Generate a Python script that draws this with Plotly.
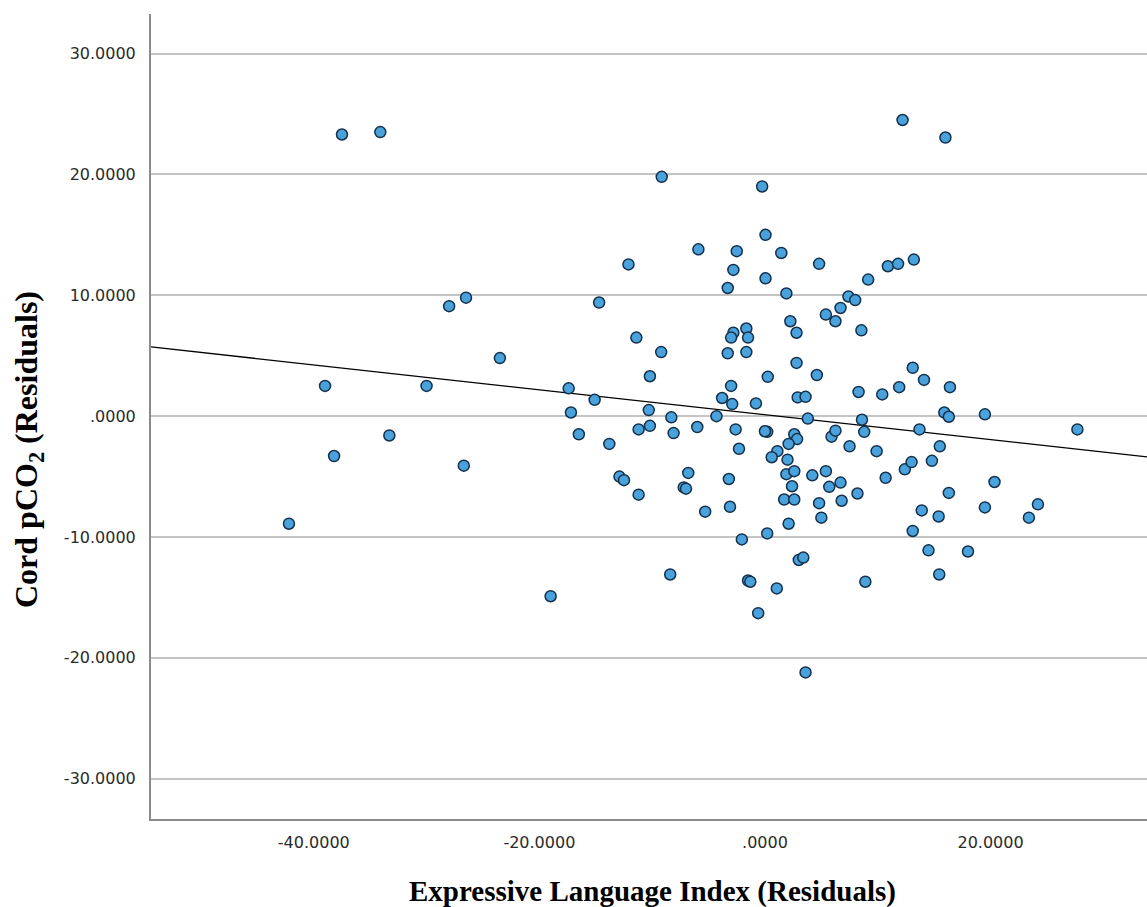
import plotly.graph_objects as go
import numpy as np

# Residual values
x_vals = [
    -37.5, -34.1, -28.0, -26.5, -23.5, -14.7, -39.0, -30.0, -17.4, -15.1, -17.2, -16.5, -33.3, -38.2, -26.7, -42.2, -19.0,
    -13.8, -10.2, -9.2, -10.3, -11.2, -10.2, -8.3, -8.1, -6.0, -4.3, -3.8, -3.0, -2.9, -3.3, -1.65, -0.8, -2.6, -2.3,
    -12.9, -12.5, -11.2, -6.8, -7.2, -7.0, -3.2,
    0.2, 0.0, 2.9, 3.6, 3.8, 2.6, 2.85, 2.1, 1.1, 0.6, 2.0, 1.9, 2.6, 2.4, 1.7, 2.6, 2.1, 4.2, 5.4, 5.7, 6.7, 4.8, 5.0,
    6.8, 8.2, 7.5, 5.9, 6.25, 8.6, 8.8, 9.9, 10.7, 12.4, 13.0, 13.1, 8.3, 10.4, 11.9, -5.3, -3.1, -2.05, 0.2, 3.0, 3.4,
    -8.4, -1.5, -1.3, 1.05, -0.6, 8.9, 3.6,
    12.2, -9.15, -0.25, 0.05, -5.9, -2.5, 1.45, -12.1, 4.8, 10.9, 11.8, 13.2, -2.8, 0.05, 9.15, -3.3, 1.9, 7.4, 8.0,
    6.7, 5.4, 6.25, 8.55, 2.25, 2.8, -11.4, -2.8, -1.65, -3.0, -1.5, 0.25, 2.8, 4.6, 13.1,
    16.0, 14.1, 16.4, 15.9, 16.3, 19.5, 27.7, 13.7, 15.5,
    14.8, 20.35, 16.3, 13.9, 15.4, 19.5, 24.2, 23.4, 14.5, 18.0, 15.45,
]
y_vals = [
    23.3, 23.5, 9.1, 9.8, 4.8, 9.4, 2.5, 2.5, 2.3, 1.35, 0.3, -1.5, -1.6, -3.3, -4.1, -8.9, -14.9,
    -2.3, 3.3, 5.3, 0.5, -1.1, -0.8, -0.1, -1.4, -0.9, 0.0, 1.5, 2.5, 1.0, 5.2, 5.3, 1.05, -1.1, -2.7,
    -5.0, -5.3, -6.5, -4.7, -5.9, -6.0, -5.2,
    -1.3, -1.25, 1.55, 1.6, -0.2, -1.5, -1.9, -2.3, -2.9, -3.4, -3.6, -4.8, -4.55, -5.8, -6.9, -6.9, -8.9, -4.9, -4.55,
    -5.85, -5.5, -7.2, -8.4, -7.0, -6.4, -2.5, -1.7, -1.2, -0.3, -1.3, -2.9, -5.1, -4.4, -3.8, -9.5, 2.0, 1.8, 2.4,
    -7.9, -7.5, -10.2, -9.7, -11.9, -11.7, -13.1, -13.6, -13.7, -14.25, -16.3, -13.7, -21.2,
    24.5, 19.8, 19.0, 15.0, 13.8, 13.65, 13.5, 12.55, 12.6, 12.4, 12.6, 12.95, 12.1, 11.4, 11.3, 10.6, 10.15, 9.9, 9.6,
    8.95, 8.4, 7.85, 7.1, 7.85, 6.9, 6.5, 6.9, 7.25, 6.5, 6.5, 3.25, 4.4, 3.4, 4.0,
    23.05, 3.0, 2.4, 0.3, -0.05, 0.15, -1.1, -1.1, -2.5,
    -3.7, -5.45, -6.35, -7.8, -8.3, -7.55, -7.3, -8.4, -11.1, -11.2, -13.1,
]
x_ticks = [-40, -20, 0, 20]
x_tick_labels = ["-40.0000", "-20.0000", ".0000", "20.0000"]
y_ticks = [-30, -20, -10, 0, 10, 20, 30]
y_tick_labels = ["-30.0000", "-20.0000", "-10.0000", ".0000", "10.0000", "20.0000", "30.0000"]

fit_intercept = 0.12
fit_slope = -0.103

x_range = [-54.43, 33.87]
y_range = [-33.33, 33.27]

fit_x = np.array(x_range)
fit_y = fit_intercept + fit_slope * fit_x

fig = go.Figure()
fig.add_trace(go.Scatter(
    x=fit_x, y=fit_y, mode="lines",
    line=dict(color="black", width=1.3),
    hoverinfo="skip", showlegend=False,
))
fig.add_trace(go.Scatter(
    x=x_vals, y=y_vals, mode="markers",
    marker=dict(size=11, color="#4aa2dc", line=dict(color="#14304a", width=1.5)),
    showlegend=False,
))

tick_font = dict(family="DejaVu Sans", size=16, color="#2a2a2a")

fig.update_layout(
    width=1147, height=907,
    margin=dict(l=151, r=0, t=14, b=88),
    paper_bgcolor="white", plot_bgcolor="white",
    xaxis=dict(
        range=x_range, tickmode="array", tickvals=x_ticks, ticktext=x_tick_labels,
        showgrid=False, zeroline=False, showline=True, linecolor="#8a8a8a", linewidth=2,
        ticks="", tickfont=tick_font, ticklabelstandoff=8,
    ),
    yaxis=dict(
        range=y_range, tickmode="array", tickvals=y_ticks, ticktext=y_tick_labels,
        showgrid=True, gridcolor="#c4c4c4", gridwidth=1.5, zeroline=False,
        showline=True, linecolor="#8a8a8a", linewidth=2,
        ticks="", tickfont=tick_font, ticklabelstandoff=10,
    ),
    annotations=[
        dict(text="<b>Expressive Language Index (Residuals)</b>", xref="paper", yref="paper",
             x=(652 - 151) / 996, y=-(891 - 819) / 805, xanchor="center", yanchor="middle",
             showarrow=False, font=dict(family="Liberation Serif", size=29, color="black")),
        dict(text="<b>Cord pCO<sub>2</sub> (Residuals)</b>", xref="paper", yref="paper",
             x=-(151 - 28) / 996, y=(819 - 450) / 805, xanchor="center", yanchor="middle",
             textangle=-90, showarrow=False,
             font=dict(family="Liberation Serif", size=32, color="black")),
    ],
)

fig.write_html("out.html")
